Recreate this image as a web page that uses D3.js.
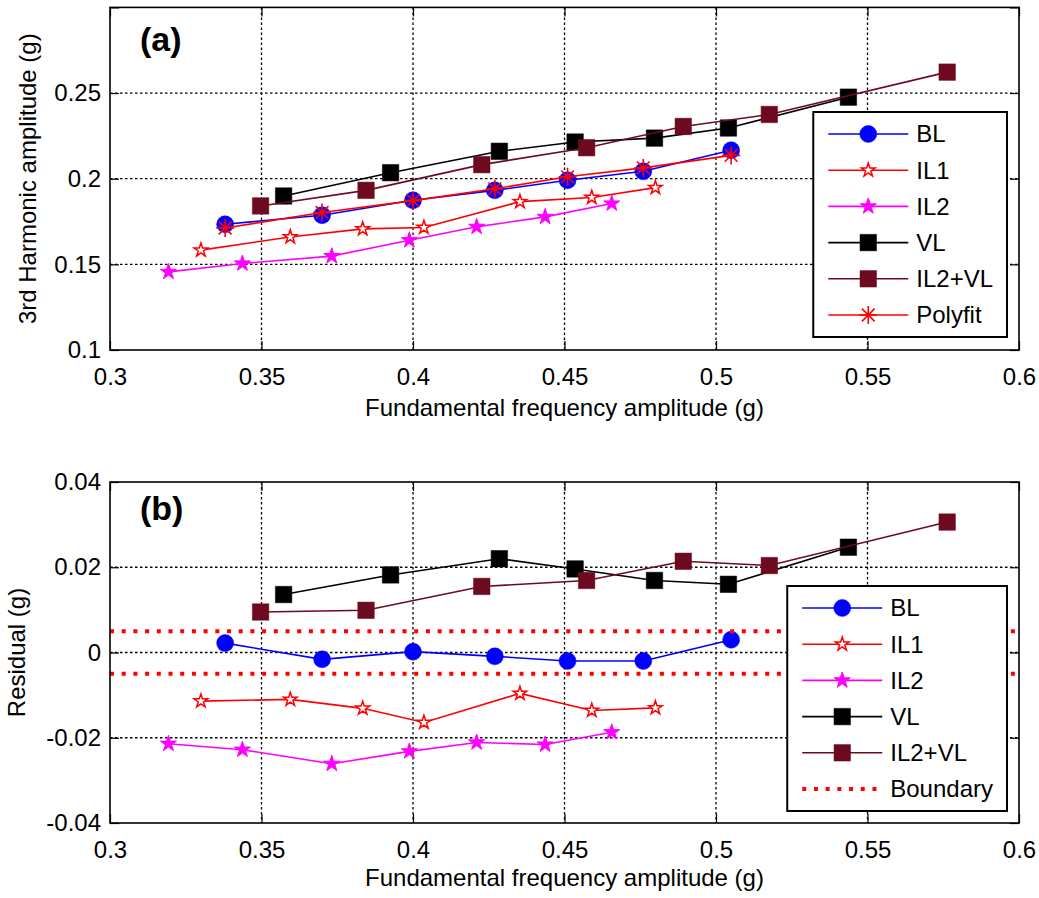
<!DOCTYPE html>
<html>
<head>
<meta charset="utf-8">
<script src="https://cdn.jsdelivr.net/npm/d3@7"></script>
<style>
  body { margin: 0; background: #fff; }
  svg text { font-family: Arial, 'Liberation Sans', sans-serif; }
</style>
</head>
<body>
<svg id="chart" width="1039" height="898"></svg>
<script>
// Fundamental frequency amplitude (g) for each load case
const blX = [0.338, 0.370, 0.400, 0.427, 0.451, 0.476, 0.505];
const il1X = [0.330, 0.3595, 0.3834, 0.4036, 0.4353, 0.459, 0.480];
const il2X = [0.3193, 0.3437, 0.3732, 0.3988, 0.421, 0.4436, 0.4656];
const vlX = [0.3573, 0.3926, 0.4285, 0.4535, 0.4797, 0.5041, 0.5437];
const il2vlX = [0.3497, 0.3845, 0.4227, 0.4573, 0.4892, 0.5176, 0.5763];

// 3rd harmonic amplitude (g)
const blY = [0.1734, 0.1787, 0.1874, 0.1932, 0.1991, 0.2043, 0.2166];
const il1Y = [0.1583, 0.166, 0.1707, 0.1715, 0.1866, 0.189, 0.1948];
const il2Y = [0.1456, 0.1505, 0.1548, 0.1641, 0.1719, 0.1777, 0.1855];
const vlY = [0.1899, 0.2035, 0.216, 0.2214, 0.2237, 0.2296, 0.2476];
const il2vlY = [0.1841, 0.1932, 0.2082, 0.2181, 0.2305, 0.2375, 0.2622];
const polyfitY = [0.1712, 0.1803, 0.1872, 0.1941, 0.2011, 0.2063, 0.2136];

// Residual (g)
const blRes = [0.0022, -0.0016, 0.0002, -0.0009, -0.002, -0.002, 0.003];
const il1Res = [-0.0114, -0.011, -0.0131, -0.0164, -0.0096, -0.0136, -0.013];
const il2Res = [-0.0214, -0.0228, -0.0261, -0.0232, -0.0211, -0.0216, -0.0187];
const vlRes = [0.0136, 0.0182, 0.022, 0.0196, 0.0169, 0.016, 0.0247];
const il2vlRes = [0.0095, 0.0099, 0.0155, 0.0169, 0.0214, 0.0204, 0.0306];
const boundary = [0.005, -0.005];

// Ticks
const xTicks = [0.3, 0.35, 0.4, 0.45, 0.5, 0.55, 0.6];
const topYTicks = [0.1, 0.15, 0.2, 0.25, 0.3];
const topYLabels = ['0.1', '0.15', '0.2', '0.25', ''];
const bottomYTicks = [-0.04, -0.02, 0, 0.02, 0.04];

const FONT = "Arial, 'Liberation Sans', sans-serif";
const MAROON = '#6e0a1f';

const svg = d3.select('#chart');

const zip = (xs, ys) => xs.map((v, i) => ({ x: v, y: ys[i] }));

// Marker drawing helper
const drawMarker = (g, type, color) => {
  if (type === 'circle') {
    g.append('path').attr('d', d3.symbol(d3.symbolCircle).size(227)())
      .attr('fill', color).attr('stroke', color).attr('stroke-width', 0.5);
  } else if (type === 'square') {
    g.append('path').attr('d', d3.symbol(d3.symbolSquare).size(272)())
      .attr('fill', color).attr('stroke', color).attr('stroke-width', 0.5);
  } else if (type === 'star') {
    g.append('path').attr('d', d3.symbol(d3.symbolStar).size(80)())
      .attr('fill', color).attr('stroke', color).attr('stroke-width', 1);
  } else if (type === 'openstar') {
    g.append('path').attr('d', d3.symbol(d3.symbolStar).size(58)())
      .attr('fill', '#fff').attr('stroke', color).attr('stroke-width', 1.5);
  } else if (type === 'asterisk') {
    const r = 9, a = r * 0.707;
    g.append('path')
      .attr('d', `M0,${-r}L0,${r}M${-r},0L${r},0M${-a},${-a}L${a},${a}M${-a},${a}L${a},${-a}`)
      .attr('fill', 'none').attr('stroke', color).attr('stroke-width', 1.6);
  }
};

const drawPanel = (cfg) => {
  const left = 110, right = 1019;
  const g = svg.append('g');

  const x = d3.scaleLinear().domain([0.3, 0.6]).range([left, right]);
  const y = d3.scaleLinear().domain(cfg.yDomain).range([cfg.bottom, cfg.top]);

  // Dotted grid
  g.append('g').selectAll('line').data(xTicks.slice(1, -1)).join('line')
    .attr('x1', (d) => x(d)).attr('x2', (d) => x(d))
    .attr('y1', cfg.top).attr('y2', cfg.bottom)
    .attr('stroke', '#000').attr('stroke-width', 1.3).attr('stroke-dasharray', '2.5,2.5');
  g.append('g').selectAll('line').data(cfg.yTicks.slice(1, -1)).join('line')
    .attr('x1', left).attr('x2', right)
    .attr('y1', (d) => y(d)).attr('y2', (d) => y(d))
    .attr('stroke', '#000').attr('stroke-width', 1.3).attr('stroke-dasharray', '2.5,2.5');

  // Series
  cfg.series.forEach((s) => {
    const line = d3.line().x((d) => x(d.x)).y((d) => y(d.y));
    if (s.dash) {
      // boundary lines: one path per level
      s.y.forEach((level) => {
        g.append('path').datum([{ x: 0.3, y: level }, { x: 0.6, y: level }]).attr('d', line)
          .attr('fill', 'none').attr('stroke', s.color)
          .attr('stroke-width', 4).attr('stroke-dasharray', '4,7.7');
      });
      return;
    }
    const pts = zip(s.x, s.y);
    g.append('path').datum(pts).attr('d', line)
      .attr('fill', 'none').attr('stroke', s.color).attr('stroke-width', 1.6);
    pts.forEach((p) => {
      const m = g.append('g').attr('transform', `translate(${x(p.x)},${y(p.y)})`);
      drawMarker(m, s.marker, s.color);
    });
  });

  // Axes with inward ticks (box style)
  const styleAxis = (sel) => {
    sel.select('.domain').remove();
    sel.selectAll('line').attr('stroke', '#000').attr('stroke-width', 1.2);
    sel.selectAll('text').attr('font-family', FONT).attr('font-size', 24).attr('fill', '#000');
  };

  g.append('g').attr('transform', `translate(0,${cfg.bottom})`)
    .call(d3.axisBottom(x).tickValues(xTicks).tickSize(-9).tickPadding(18).tickFormat((d) => String(d)))
    .call(styleAxis);
  g.append('g').attr('transform', `translate(0,${cfg.top})`)
    .call(d3.axisTop(x).tickValues(xTicks).tickSize(-9).tickFormat(''))
    .call(styleAxis);
  g.append('g').attr('transform', `translate(${left},0)`)
    .call(d3.axisLeft(y).tickValues(cfg.yTicks).tickSize(-9).tickPadding(9)
      .tickFormat((d, i) => cfg.yLabels[i]))
    .call(styleAxis);
  g.append('g').attr('transform', `translate(${right},0)`)
    .call(d3.axisRight(y).tickValues(cfg.yTicks).tickSize(-9).tickFormat(''))
    .call(styleAxis);

  g.append('rect')
    .attr('x', left).attr('y', cfg.top)
    .attr('width', right - left).attr('height', cfg.bottom - cfg.top)
    .attr('fill', 'none').attr('stroke', '#000').attr('stroke-width', 1.6);

  // Axis labels
  g.append('text')
    .attr('x', (left + right) / 2).attr('y', cfg.bottom + cfg.xLabelGap)
    .attr('text-anchor', 'middle').attr('font-size', 24)
    .text('Fundamental frequency amplitude (g)');

  g.append('text')
    .attr('transform', `translate(${cfg.yLabelX},${(cfg.top + cfg.bottom) / 2}) rotate(-90)`)
    .attr('text-anchor', 'middle').attr('font-size', 24)
    .text(cfg.yLabel);

  // Panel tag
  g.append('text')
    .attr('x', left + 30).attr('y', cfg.tagY)
    .attr('font-size', 34).attr('font-weight', 'bold')
    .text(cfg.tag);

  // Legend (one row per series)
  const lg = g.append('g');
  const box = lg.append('rect').attr('fill', '#fff').attr('stroke', '#000').attr('stroke-width', 2);
  const rowH = 36.2;
  let maxW = 0;
  cfg.series.forEach((s, i) => {
    const ry = 22 + i * rowH;
    const row = lg.append('g').attr('transform', `translate(0,${ry})`);
    row.append('line').attr('x1', 15).attr('x2', 95).attr('y1', 0).attr('y2', 0)
      .attr('stroke', s.color)
      .attr('stroke-width', s.dash ? 4 : 1.6)
      .attr('stroke-dasharray', s.dash ? '4,7.7' : null);
    if (!s.dash) {
      const m = row.append('g').attr('transform', 'translate(55,0)');
      drawMarker(m, s.marker, s.color);
    }
    const t = row.append('text').attr('x', 103).attr('dy', '0.35em')
      .attr('font-size', 24).text(s.name);
    maxW = Math.max(maxW, t.node().getComputedTextLength());
  });
  const boxW = 103 + maxW + 14;
  const boxH = 22 + (cfg.series.length - 1) * rowH + 22;
  box.attr('x', 0).attr('y', 0).attr('width', boxW).attr('height', boxH);
  lg.attr('transform', `translate(${1007 - boxW},${cfg.legendTop})`);
};

drawPanel({
  yDomain: [0.1, 0.3],
  top: 7.4,
  bottom: 350,
  yTicks: topYTicks,
  yLabels: topYLabels,
  yLabel: '3rd Harmonic amplitude (g)',
  yLabelX: 36,
  xLabelGap: 66,
  tag: '(a)',
  tagY: 51,
  legendTop: 112,
  series: [
    { name: 'BL', x: blX, y: blY, color: '#0000ff', marker: 'circle' },
    { name: 'IL1', x: il1X, y: il1Y, color: '#ff0000', marker: 'openstar' },
    { name: 'IL2', x: il2X, y: il2Y, color: '#ff00ff', marker: 'star' },
    { name: 'VL', x: vlX, y: vlY, color: '#000000', marker: 'square' },
    { name: 'IL2+VL', x: il2vlX, y: il2vlY, color: MAROON, marker: 'square' },
    { name: 'Polyfit', x: blX, y: polyfitY, color: '#ff0000', marker: 'asterisk' }
  ]
});

drawPanel({
  yDomain: [-0.04, 0.04],
  top: 482,
  bottom: 823,
  yTicks: bottomYTicks,
  yLabels: bottomYTicks.map((d) => String(d)),
  yLabel: 'Residual (g)',
  yLabelX: 25,
  xLabelGap: 63,
  tag: '(b)',
  tagY: 520,
  legendTop: 586,
  series: [
    { name: 'BL', x: blX, y: blRes, color: '#0000ff', marker: 'circle' },
    { name: 'IL1', x: il1X, y: il1Res, color: '#ff0000', marker: 'openstar' },
    { name: 'IL2', x: il2X, y: il2Res, color: '#ff00ff', marker: 'star' },
    { name: 'VL', x: vlX, y: vlRes, color: '#000000', marker: 'square' },
    { name: 'IL2+VL', x: il2vlX, y: il2vlRes, color: MAROON, marker: 'square' },
    { name: 'Boundary', x: [0.3, 0.6], y: boundary, color: '#ff0000', dash: true }
  ]
});
</script>
</body>
</html>
